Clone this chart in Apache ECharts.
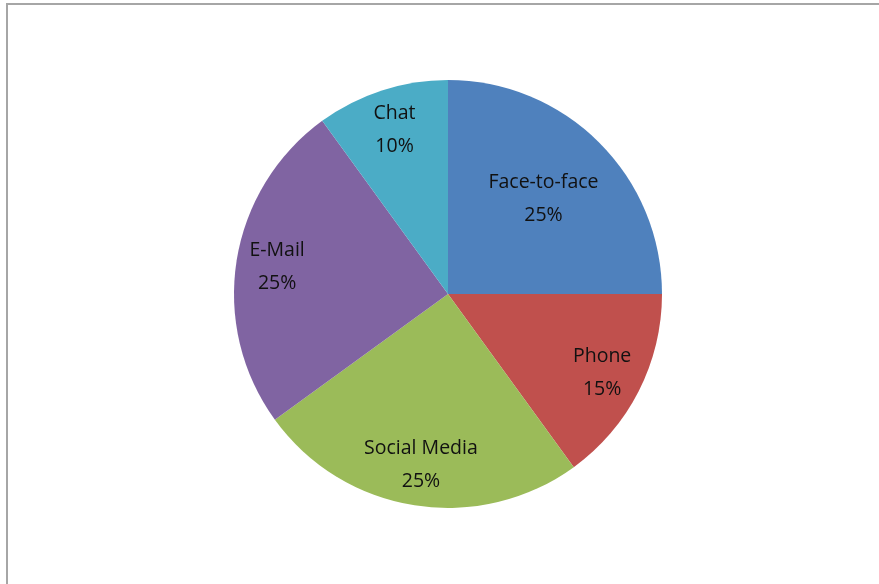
<!DOCTYPE html>
<html>
<head>
<meta charset="utf-8">
<script src="https://cdn.jsdelivr.net/npm/echarts@6/dist/echarts.min.js"></script>
<style>
html,body{margin:0;padding:0;background:#fff;}
#c{width:879px;height:584px;}
</style>
</head>
<body>
<div id="c"></div>
<script>
const categories = ['Face-to-face', 'Phone', 'Social Media', 'E-Mail', 'Chat'];
const values = [25, 15, 25, 25, 10];
const colors = ['#4F81BD', '#C0504D', '#9BBB59', '#8064A2', '#4BACC6'];

const chart = echarts.init(document.getElementById('c'), null, {renderer: 'canvas'});
const center = [448, 294];
const R = 214;

const baseData = categories.map((n, i) => ({name: n, value: values[i], itemStyle: {color: colors[i]}}));
const labelStyle = {
  show: true,
  position: 'inside',
  formatter: p => p.name + '\n' + p.value + '%',
  fontFamily: 'Open Sans',
  fontSize: 19.5,
  lineHeight: 33,
  color: '#111'
};
// label ring: outer labels further out, first item nearer the centre
function labelSeries(r0, pick) {
  return {
    type: 'pie', center: center, radius: [r0, R], startAngle: 90, clockwise: true,
    silent: true, animation: false, z: 5,
    itemStyle: {color: 'rgba(0,0,0,0)'},
    labelLine: {show: false},
    data: categories.map((n, i) => ({
      name: n, value: values[i],
      label: Object.assign({}, labelStyle, {show: pick(i)})
    }))
  };
}

chart.setOption({
  animation: false,
  graphic: [{
    type: 'rect', shape: {x: 7, y: 4, width: 1000, height: 700},
    style: {fill: 'none', stroke: '#a6a6a6', lineWidth: 2}, silent: true
  }],
  series: [
    {
      type: 'pie', center: center, radius: [0, R], startAngle: 90, clockwise: true,
      animation: false, label: {show: false}, labelLine: {show: false},
      itemStyle: {borderWidth: 0},
      data: baseData
    },
    labelSeries(50, i => i === 0),
    labelSeries(126, i => i !== 0)
  ]
});
</script>
</body>
</html>
